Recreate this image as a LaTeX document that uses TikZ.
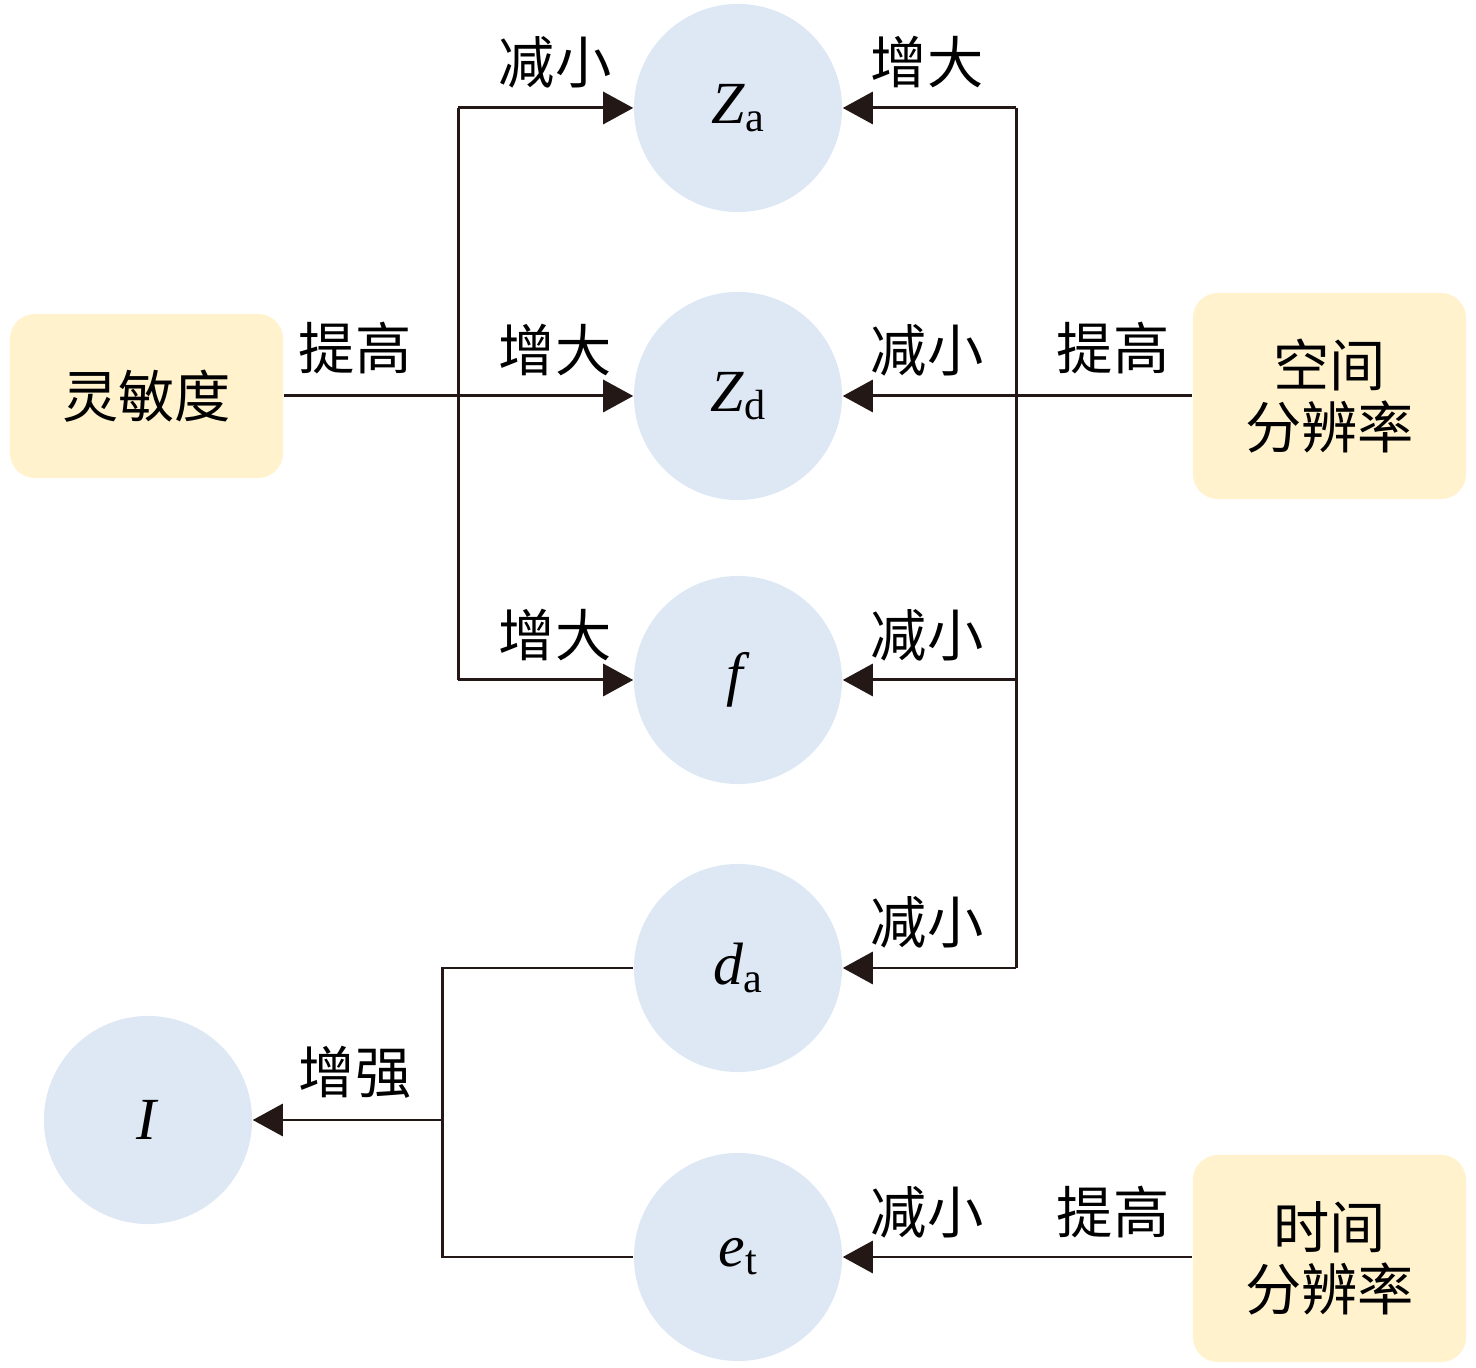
\documentclass[tikz,border=0pt]{standalone}
\usepackage{fontspec}
\setmainfont{Liberation Serif}
\newfontfamily\cjk{Noto Sans CJK SC}
\usetikzlibrary{positioning, arrows.meta}

\definecolor{circfill}{HTML}{DDE8F4}
\definecolor{boxfill}{HTML}{FFF2CC}
\definecolor{linecol}{HTML}{231815}

\tikzset{
  param/.style={circle, fill=circfill, minimum size=2.08cm, inner sep=0pt, font=\fontsize{17}{20}\selectfont},
  factor/.style={rounded corners=0.25cm, fill=boxfill, align=center, inner sep=0pt, font=\cjk\fontsize{16}{17.6}\selectfont},
  lbl/.style={font=\cjk\fontsize{16}{19}\selectfont},
  conn/.style={draw=linecol, line width=0.85pt},
  arr/.style={conn, -{Triangle[length=0.3cm, width=0.32cm]}}
}

\newcommand{\sym}[2]{\textit{#1}\raisebox{-0.3ex}{\fontsize{12}{12}\selectfont #2}}

\begin{document}
\begin{tikzpicture}[x=0.01cm, y=-0.01cm]
  \useasboundingbox (0,0) rectangle (1476,1368);

  % parameters
  \node[param] (za) at (738,108) {\sym{Z}{a}};
  \node[param] (zd) at (738,396) {\sym{Z}{d}};
  \node[param] (f)  at (738,680) {\textit{f}};
  \node[param] (da) at (738,968) {\sym{d}{a}};
  \node[param] (et) at (738,1257) {\sym{e}{t}};
  \node[param] (I)  at (148,1120) {\textit{I}};

  % factors
  \node[factor, minimum width=2.73cm, minimum height=1.64cm] (sens) at (146.5,396) {灵敏度};
  \node[factor, minimum width=2.73cm, minimum height=2.06cm] (space) at (1329.5,396) {空间\\分辨率};
  \node[factor, minimum width=2.73cm, minimum height=2.07cm] (time) at (1329.5,1258.5) {时间\\分辨率};

  % branch points
  \coordinate (lt) at (458,108);
  \coordinate (lb) at (458,680);
  \coordinate (rt) at (1016,108);
  \coordinate (rf) at (1016,680);
  \coordinate (rb) at (1016,968);
  \coordinate (bt) at (442,968);
  \coordinate (bm) at (442,1120);
  \coordinate (bb) at (442,1257);

  % sensitivity
  \draw[conn] (lt) -- (lb);
  \draw[arr] (sens.east) -- (zd.west);
  \draw[arr] (lt) -- (za.west);
  \draw[arr] (lb) -- (f.west);

  % spatial resolution
  \draw[conn] (rt) -- (rb);
  \draw[arr] (space.west) -- (zd.east);
  \draw[arr] (rt) -- (za.east);
  \draw[arr] (rf) -- (f.east);
  \draw[arr] (rb) -- (da.east);

  % temporal resolution and intensity
  \draw[arr] (time.west |- et) -- (et.east);
  \draw[conn] (da.west) -- (bt) -- (bb) -- (et.west);
  \draw[arr] (bm) -- (I.east);

  % labels
  \node[lbl] (l1) at (555,62) {减小};
  \node[lbl] (l2) at (927,62) {增大};
  \node[lbl] (l3) at (355,348) {提高};
  \node[lbl] (l4) at (555,350) {增大};
  \node[lbl] (l5) at (927,350) {减小};
  \node[lbl] (l6) at (1113,348) {提高};
  \node[lbl] (l7) at (555,635) {增大};
  \node[lbl] (l8) at (927,635) {减小};
  \node[lbl] (l9) at (927,922) {减小};
  \node[lbl] (l10) at (355,1072) {增强};
  \node[lbl] (l11) at (927,1212) {减小};
  \node[lbl] (l12) at (1113,1212) {提高};
\end{tikzpicture}
\end{document}
